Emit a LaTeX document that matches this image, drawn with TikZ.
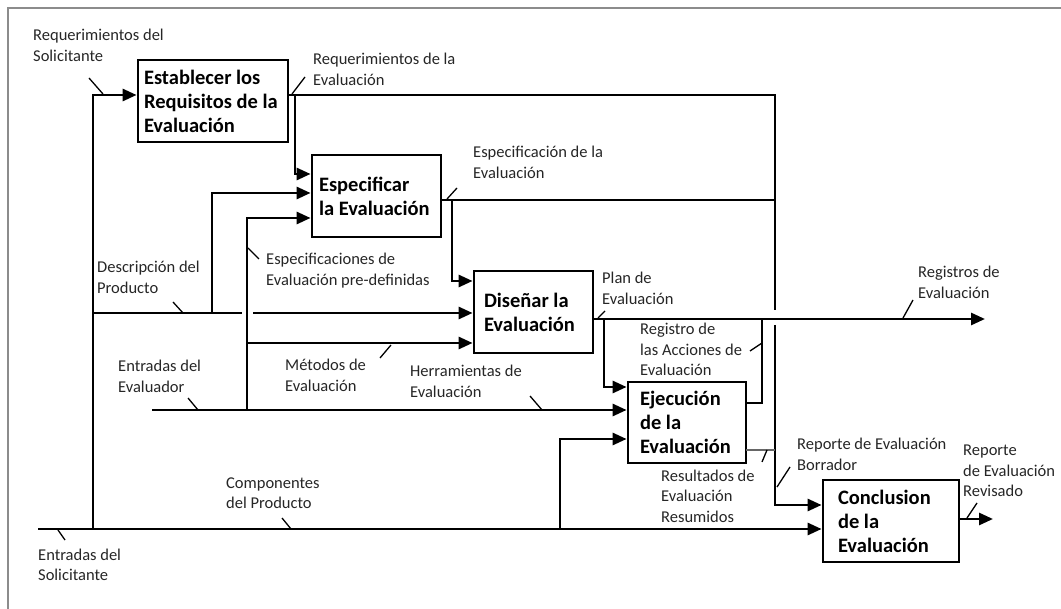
\documentclass[tikz,border=0pt]{standalone}
\usepackage{fontspec}
\setmainfont{Carlito}
\usetikzlibrary{arrows.meta}

\begin{document}
\begin{tikzpicture}[x=1pt,y=-1pt,
  flow/.style={line width=2.8pt},
  arr/.style={flow, -{Triangle[length=14pt,width=12pt]}},
  lead/.style={line width=1.3pt},
  fine/.style={line width=1.4pt, black!60},
  lbl/.style={font=\fontsize{16.5}{20.5}\selectfont, align=left, anchor=base west, inner sep=0pt, text=black!85},
  box/.style={draw, line width=2.8pt, font=\bfseries\fontsize{20.5}{24}\selectfont, align=flush left, inner sep=0pt, fill=white}
]
\useasboundingbox (0,0) rectangle (1061,609);

% outer frame (top and left edges)
\draw[black!45, line width=2pt] (8,609) -- (8,8) -- (1061,8);

% activity boxes
\node[box, minimum width=150pt, minimum height=82pt, text width=138pt] (A) at (213,101) {Establecer los\\Requisitos de la\\Evaluación};
\node[box, minimum width=129pt, minimum height=82pt, text width=115pt] (B) at (376.5,196) {Especificar\\la Evaluación};
\node[box, minimum width=119pt, minimum height=82pt, text width=99pt] (C) at (533.5,312) {Diseñar la\\Evaluación};
\node[box, minimum width=118pt, minimum height=81pt, text width=94pt] (D) at (687,422.5) {Ejecución\\de la\\Evaluación};
\node[box, minimum width=136pt, minimum height=82pt, text width=106pt] (E) at (891,521) {Conclusion\\de la\\Evaluación};

% junction points
\coordinate (s0) at (38,529);
\coordinate (v1b) at (93,529);
\coordinate (v1t) at (93,95);
\coordinate (d0) at (93,313);
\coordinate (dgl) at (242,313);
\coordinate (dgr) at (253,313);
\coordinate (d1) at (212,313);
\coordinate (d1t) at (212,193);
\coordinate (ev0) at (152,410);
\coordinate (e1) at (247,410);
\coordinate (e1t) at (247,218);
\coordinate (m0) at (247,343);
\coordinate (r1) at (775,95);
\coordinate (r1g) at (775,310);
\coordinate (r2g) at (775,325);
\coordinate (r2b) at (775,505);
\coordinate (a1) at (295,95);
\coordinate (a1b) at (295,174);
\coordinate (b0) at (441,200);
\coordinate (b1) at (775,200);
\coordinate (b2) at (452,200);
\coordinate (b2b) at (452,281);
\coordinate (c0) at (593,319);
\coordinate (cEnd) at (985,319);
\coordinate (c1) at (604,319);
\coordinate (c1b) at (604,387);
\coordinate (x0) at (746,403);
\coordinate (x1) at (762,403);
\coordinate (x1t) at (762,319);
\coordinate (y0) at (746,450);
\coordinate (y1) at (775,450);
\coordinate (p0) at (560,529);
\coordinate (p0t) at (560,439);
\coordinate (q0) at (959,519);
\coordinate (qEnd) at (993,519);

% inputs from the requester
\draw[arr] (s0) -- (s0 -| E.west);
\draw[arr] (v1b) -- (v1t) -- (v1t -| A.west);
\draw[flow] (d0) -- (dgl);
\draw[arr] (dgr) -- (dgr -| C.west);
\draw[arr] (d1) -- (d1t) -- (d1t -| B.west);
\draw[arr] (p0) -- (p0t) -- (p0t -| D.west);

% inputs from the evaluator
\draw[arr] (ev0) -- (ev0 -| D.west);
\draw[arr] (e1) -- (e1t) -- (e1t -| B.west);
\draw[arr] (m0) -- (m0 -| C.west);

% outputs and feedback
\draw[flow] (v1t -| A.east) -- (r1) -- (r1g);
\draw[arr] (r2g) -- (r2b) -- (r2b -| E.west);
\draw[arr] (a1) -- (a1b) -- (a1b -| B.west);
\draw[flow] (b0) -- (b1);
\draw[arr] (b2) -- (b2b) -- (b2b -| C.west);
\draw[arr] (c0) -- (cEnd);
\draw[arr] (c1) -- (c1b) -- (c1b -| D.west);
\draw[flow] (x0) -- (x1) -- (x1t);
\draw[fine] (y0) -- (y1);
\draw[arr] (q0) -- (qEnd);

% label leaders
\draw[lead] (89,78) -- (103,94);
\draw[lead] (292,94) -- (305,77);
\draw[lead] (447,199) -- (457,188);
\draw[lead] (173,302) -- (183,313);
\draw[lead] (248,248) -- (259,259);
\draw[lead] (598,318) -- (605,311);
\draw[lead] (903,318) -- (913,300);
\draw[lead] (750,351) -- (762,343);
\draw[lead] (380,358) -- (391,345);
\draw[lead] (188,398) -- (198,410);
\draw[lead] (530,396) -- (542,410);
\draw[lead] (762,462) -- (767,450);
\draw[lead] (777,487) -- (790,467);
\draw[lead] (967,518) -- (977,503);
\draw[lead] (282,518) -- (291,529);
\draw[lead] (58,530) -- (65,540);

% labels (placed by the baseline of their last line)
\node[lbl] (lReqS) at (33,61.5) {Requerimientos del\\Solicitante};
\node[lbl] (lReqE) at (313,85.5) {Requerimientos de la\\Evaluación};
\node[lbl] (lEspE) at (473,178.5) {Especificación de la\\Evaluación};
\node[lbl] (lDesc) at (97,293.5) {Descripción del\\Producto};
\node[lbl] (lEspP) at (266,285.5) {Especificaciones de\\Evaluación pre-definidas};
\node[lbl] (lPlan) at (602,304.5) {Plan de\\Evaluación};
\node[lbl] (lRegs) at (918,298.5) {Registros de\\Evaluación};
\node[lbl] (lRegA) at (640,376) {Registro de\\las Acciones de\\Evaluación};
\node[lbl] (lMet) at (285,391.5) {Métodos de\\Evaluación};
\node[lbl] (lEntEv) at (118,392.5) {Entradas del\\Evaluador};
\node[lbl] (lHerr) at (410,397.5) {Herramientas de\\Evaluación};
\node[lbl] (lRes) at (661,522) {Resultados de\\Evaluación\\Resumidos};
\node[lbl] (lBorr) at (797,470.5) {Reporte de Evaluación\\Borrador};
\node[lbl] (lRev) at (963,497) {Reporte\\de Evaluación\\Revisado};
\node[lbl] (lComp) at (226,508.5) {Componentes\\del Producto};
\node[lbl] (lEntS) at (38,580.5) {Entradas del\\Solicitante};
\end{tikzpicture}
\end{document}
